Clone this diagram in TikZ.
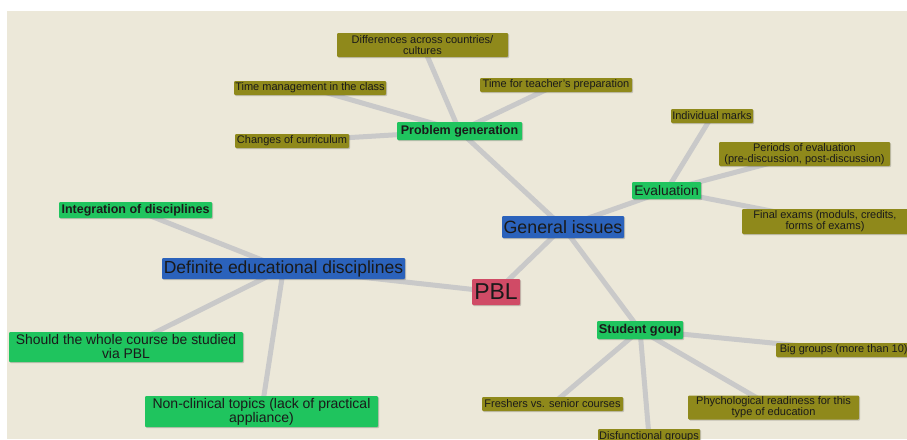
\documentclass[tikz,border=0pt]{standalone}
\usepackage{fontspec}
\setmainfont{Liberation Sans}
\usetikzlibrary{shadows}
\pgfdeclarelayer{back}
\pgfdeclarelayer{bg}
\pgfsetlayers{back,bg,main}
\definecolor{paper}{HTML}{ECE8D9}
\definecolor{olive}{HTML}{8F891B}
\definecolor{mgreen}{HTML}{1FC45E}
\definecolor{mblue}{HTML}{2B62BB}
\definecolor{mred}{HTML}{D04B66}
\definecolor{edgegray}{HTML}{C9C9C9}
\definecolor{ink}{HTML}{1A1A1A}
\tikzset{
  box/.style={rectangle, rounded corners=1pt, inner sep=0pt, align=center, text=ink,
    drop shadow={shadow xshift=1pt, shadow yshift=-1pt, fill=black, opacity=0.18}},
  leaf/.style={box, fill=olive, font=\fontsize{11}{11}\selectfont},
  topic/.style={box, fill=mgreen},
  main/.style={box, fill=mblue},
  root/.style={box, fill=mred, font=\fontsize{23}{24}\selectfont},
  link/.style={draw=edgegray, line width=5pt}
}
\begin{document}
\begin{tikzpicture}[x=1pt,y=-1pt]
\useasboundingbox (0,0) rectangle (907,439);
\begin{pgfonlayer}{back}
\fill[white] (0,0) rectangle (907,439);
\fill[paper] (7,11) rectangle (907,439);
\end{pgfonlayer}

% central
\node[root, minimum width=48, minimum height=26] (pbl) at (496,292) {PBL};
\node[main, minimum width=122, minimum height=22, font=\fontsize{17.8}{19}\selectfont] (gen) at (563,227) {General issues};
\node[main, minimum width=243, minimum height=21, font=\fontsize{17.5}{19}\selectfont] (def) at (283.5,268.5) {Definite educational disciplines};

% green topics
\node[topic, minimum width=125, minimum height=18, font=\bfseries\fontsize{12.5}{14}\selectfont] (prob) at (459.5,131) {Problem generation};
\node[topic, minimum width=69, minimum height=17, font=\fontsize{13.8}{15}\selectfont] (eval) at (666.5,190.5) {Evaluation};
\node[topic, minimum width=86, minimum height=18, font=\bfseries\fontsize{12.8}{14}\selectfont] (stud) at (640,330) {Student goup};
\node[topic, minimum width=153, minimum height=16, font=\bfseries\fontsize{12.5}{14}\selectfont] (integ) at (135.5,210) {Integration of disciplines};
\node[topic, minimum width=234, minimum height=30, font=\fontsize{13.9}{14}\selectfont] (whole) at (126,347) {Should the whole course be studied\\via PBL};
\node[topic, minimum width=233, minimum height=31, font=\fontsize{14}{14}\selectfont] (nonclin) at (261.5,411.5) {Non-clinical topics (lack of practical\\appliance)};

% olive leaves
\node[leaf, minimum width=171, minimum height=24] (diff) at (422.5,45) {Differences across countries/\\cultures};
\node[leaf, minimum width=152, minimum height=14] (tman) at (310,88) {Time management in the class};
\node[leaf, minimum width=152, minimum height=14] (tteach) at (556,85) {Time for teacher's preparation};
\node[leaf, minimum width=114, minimum height=14] (curr) at (292,141) {Changes of curriculum};
\node[leaf, minimum width=82, minimum height=14] (indiv) at (712,116) {Individual marks};
\node[leaf, minimum width=171, minimum height=24] (periods) at (804.5,154) {Periods of evaluation\\(pre-discussion, post-discussion)};
\node[leaf, minimum width=166, minimum height=25] (final) at (825,221.5) {Final exams (moduls, credits,\\forms of exams)};
\node[leaf, minimum width=135, minimum height=14, anchor=west] (big) at (776,350) {Big groups (more than 10)};
\node[leaf, minimum width=141, minimum height=14] (fresh) at (552.5,404) {Freshers vs. senior courses};
\node[leaf, minimum width=171, minimum height=24] (psych) at (773.5,407.5) {Phychological readiness for this\\type of education};
\node[leaf, minimum width=102, minimum height=15] (disf) at (649,436.5) {Disfunctional groups};

\begin{pgfonlayer}{bg}
\draw[link] (pbl.center) -- (gen.center);
\draw[link] (pbl.center) -- (def.center);
\draw[link] (gen.center) -- (prob.center);
\draw[link] (gen.center) -- (eval.center);
\draw[link] (gen.center) -- (stud.center);
\draw[link] (prob.center) -- (diff.center);
\draw[link] (prob.center) -- (tman.center);
\draw[link] (prob.center) -- (tteach.center);
\draw[link] (prob.center) -- (curr.center);
\draw[link] (eval.center) -- (indiv.center);
\draw[link] (eval.center) -- (periods.center);
\draw[link] (eval.center) -- (final.center);
\draw[link] (stud.center) -- (big.center);
\draw[link] (stud.center) -- (fresh.center);
\draw[link] (stud.center) -- (psych.center);
\draw[link] (stud.center) -- (disf.center);
\draw[link] (def.center) -- (integ.center);
\draw[link] (def.center) -- (whole.center);
\draw[link] (def.center) -- (nonclin.center);
\end{pgfonlayer}
\end{tikzpicture}
\end{document}
